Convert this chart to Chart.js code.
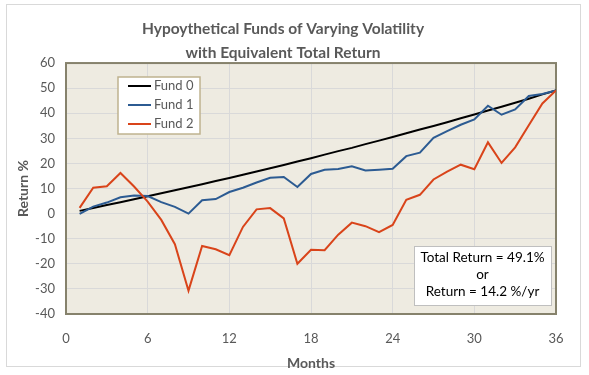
<!DOCTYPE html>
<html>
<head>
<meta charset="utf-8">
<script src="https://cdn.jsdelivr.net/npm/chart.js@4"></script>
<style>
  html, body { margin: 0; padding: 0; background: #fff; }
  #wrap { position: relative; width: 589px; height: 375px; }
</style>
</head>
<body>
<div id="wrap"><canvas id="fundChart" width="589" height="375"></canvas></div>
<script>
const months = [1,2,3,4,5,6,7,8,9,10,11,12,13,14,15,16,17,18,19,20,21,22,23,24,25,26,27,28,29,30,31,32,33,34,35,36];
const fund0 = [1.1,2.2,3.4,4.5,5.7,6.9,8.1,9.3,10.5,11.7,13.0,14.2,15.5,16.8,18.1,19.4,20.8,22.1,23.5,24.9,26.2,27.7,29.1,30.5,32.0,33.5,34.9,36.4,38.0,39.5,41.1,42.6,44.2,45.8,47.5,49.1];
const fund1 = [-0.1,2.8,4.4,6.5,7.2,7.0,4.6,2.7,0.0,5.3,5.8,8.6,10.3,12.4,14.3,14.6,10.6,15.8,17.5,17.8,18.9,17.2,17.5,17.9,22.9,24.3,30.2,32.9,35.4,37.5,43.0,39.4,41.5,46.9,47.7,49.1];
const fund2 = [2.3,10.3,10.9,16.2,10.8,4.8,-2.5,-12.2,-30.7,-12.9,-14.2,-16.6,-5.3,1.7,2.2,-1.9,-20.0,-14.4,-14.6,-8.4,-3.6,-5.0,-7.4,-4.5,5.5,7.5,13.6,16.7,19.5,17.7,28.4,20.2,26.4,35.2,43.9,49.1];
const seriesNames = ['Fund 0', 'Fund 1', 'Fund 2'];
const seriesColors = ['#000000', '#2c5b92', '#d9441a'];
const titleLines = ['Hypoythetical Funds of Varying Volatility', 'with Equivalent Total Return'];
const noteLines = ['Total Return = 49.1%', 'or', 'Return = 14.2 %/yr'];

const FONT = 'Lato, "Liberation Sans", sans-serif';
const GRAY = '#595959';

function toPoints(values) {
    return months.map((m, i) => ({ x: m, y: values[i] }));
}

// frame, plot background and plot border
const backdrop = {
    id: 'backdrop',
    beforeDraw(chart) {
        const ctx = chart.ctx;
        const a = chart.chartArea;
        ctx.save();
        ctx.fillStyle = '#ffffff';
        ctx.fillRect(0, 0, chart.width, chart.height);
        ctx.strokeStyle = '#d9d9d9';
        ctx.lineWidth = 1;
        ctx.strokeRect(6.5, 4.5, 574, 362);
        ctx.fillStyle = '#eeebe1';
        ctx.fillRect(a.left, a.top, a.right - a.left, a.bottom - a.top);
        ctx.restore();
    },
    beforeDatasetsDraw(chart) {
        const ctx = chart.ctx;
        const a = chart.chartArea;
        ctx.save();
        ctx.strokeStyle = '#86826c';
        ctx.lineWidth = 2;
        ctx.strokeRect(a.left, a.top, a.right - a.left, a.bottom - a.top);
        ctx.restore();
    }
};

// legend box in the upper left and the note box in the lower right
const boxes = {
    id: 'boxes',
    afterDraw(chart) {
        const ctx = chart.ctx;
        ctx.save();

        // legend
        ctx.fillStyle = '#ffffff';
        ctx.fillRect(118, 77, 82, 57);
        ctx.strokeStyle = '#bfb38f';
        ctx.lineWidth = 1.5;
        ctx.strokeRect(118, 77, 82, 57);
        ctx.font = '13px ' + FONT;
        ctx.textBaseline = 'middle';
        ctx.textAlign = 'left';
        const rows = [86, 105, 124];
        chart.data.datasets.forEach((ds, i) => {
            ctx.strokeStyle = ds.borderColor;
            ctx.lineWidth = 2;
            ctx.beginPath();
            ctx.moveTo(128, rows[i]);
            ctx.lineTo(151, rows[i]);
            ctx.stroke();
            ctx.fillStyle = GRAY;
            ctx.fillText(ds.label, 154, rows[i]);
        });

        // note
        ctx.fillStyle = '#ffffff';
        ctx.fillRect(414, 246, 137, 59);
        ctx.strokeStyle = '#bfbfbf';
        ctx.lineWidth = 1;
        ctx.strokeRect(414.5, 246.5, 137, 59);
        ctx.fillStyle = '#000000';
        ctx.textAlign = 'center';
        ctx.font = '13.5px ' + FONT;
        const noteY = [258, 275, 292];
        noteLines.forEach((t, i) => ctx.fillText(t, 482.5, noteY[i]));

        ctx.restore();
    }
};

const chart = new Chart(document.getElementById('fundChart'), {
    type: 'line',
    data: {
        datasets: [fund0, fund1, fund2].map((vals, i) => ({
            label: seriesNames[i],
            data: toPoints(vals),
            borderColor: seriesColors[i],
            backgroundColor: seriesColors[i],
            borderWidth: 2,
            pointRadius: 0,
            tension: 0,
            order: 2 - i
        }))
    },
    options: {
        responsive: false,
        animation: false,
        layout: { padding: { left: 10, right: 33, top: 0, bottom: 1 } },
        plugins: {
            legend: { display: false },
            tooltip: { enabled: false },
            title: {
                display: true,
                text: titleLines,
                color: GRAY,
                font: { family: FONT, size: 15.5, weight: 'bold', lineHeight: 1.55 },
                padding: { top: 17, bottom: -2 }
            }
        },
        scales: {
            x: {
                type: 'linear',
                min: 0,
                max: 36,
                ticks: {
                    stepSize: 6,
                    color: GRAY,
                    padding: 17,
                    font: { family: FONT, size: 13 }
                },
                grid: { color: '#d9d9d9', lineWidth: 1, drawTicks: false },
                border: { display: false },
                title: {
                    display: true,
                    text: 'Months',
                    color: GRAY,
                    font: { family: FONT, size: 14, weight: 'bold' },
                    padding: { top: 3, bottom: 2 }
                },
                afterFit(scale) { scale.height = 60; }
            },
            y: {
                min: -40,
                max: 60,
                ticks: {
                    stepSize: 10,
                    color: GRAY,
                    padding: 11,
                    font: { family: FONT, size: 13 }
                },
                grid: { color: '#d9d9d9', lineWidth: 1, drawTicks: false },
                border: { display: false },
                title: {
                    display: true,
                    text: 'Return %',
                    color: GRAY,
                    font: { family: FONT, size: 14, weight: 'bold' },
                    padding: { top: 5, bottom: 5 }
                },
                afterFit(scale) { scale.width = 56; }
            }
        }
    },
    plugins: [backdrop, boxes]
});
</script>
</body>
</html>
